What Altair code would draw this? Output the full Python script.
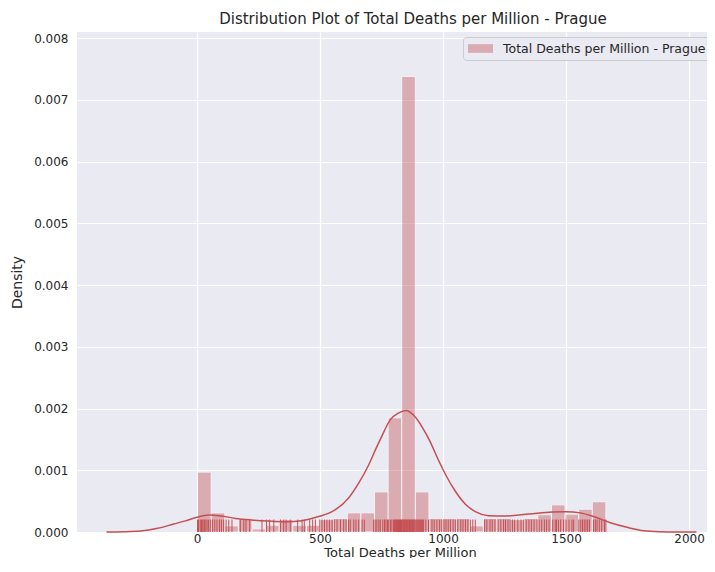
import altair as alt
import numpy as np
import pandas as pd

# ---------------- data ----------------
series_label = "Total Deaths per Million - Prague"

# individual observations (rug)
rug_values = [
    2, 6, 13, 18, 23, 28, 31, 36, 41, 47, 54, 63, 72, 81, 91, 99, 108, 118, 129, 142,
    176, 190, 199, 214, 264, 282, 295, 312, 339, 352, 362, 379, 409, 427, 436, 458,
    470, 481, 499, 508, 518, 528, 538, 549, 558, 569, 583, 596, 606, 616, 623, 637,
    646, 657, 671, 680, 718, 724, 731, 739, 745, 755, 762, 768, 774, 779, 786, 792,
    799, 803, 807, 811, 815, 819, 823, 827, 831, 834, 837, 840, 843, 846, 849, 852,
    855, 858, 861, 864, 867, 870, 873, 876, 879, 882, 885, 889, 893, 897, 901, 905,
    909, 913, 917, 921, 930, 941, 955, 964, 975, 986, 995, 1004, 1012, 1021, 1030,
    1041, 1050, 1060, 1072, 1081, 1091, 1101, 1111, 1121, 1131, 1169, 1178, 1191,
    1200, 1211, 1224, 1235, 1246, 1254, 1264, 1273, 1282, 1291, 1304, 1317, 1328,
    1338, 1349, 1359, 1370, 1382, 1391, 1401, 1412, 1421, 1431, 1446, 1456, 1461,
    1469, 1478, 1490, 1500, 1512, 1524, 1531, 1552, 1560, 1567, 1574, 1581, 1588,
    1595, 1612, 1619, 1626, 1635, 1645, 1656, 1662,
]

# histogram densities (30 equal bins between min and max of the data)
hist_density = [
    0.00097, 0.00031, 0.00010, 0.00020, 0.00005, 0.00011, 0.00020, 0.00011, 0.00011, 0.00020,
    0.00022, 0.00031, 0.00031, 0.00065, 0.00185, 0.00738, 0.00065, 0.00022, 0.00022, 0.00022,
    0.00010, 0.00022, 0.00022, 0.00020, 0.00022, 0.00028, 0.00044, 0.00029, 0.00037, 0.00049,
]

# KDE curve
kde_x = [-368, -300, -230, -160, -95, -47, 0, 50, 90, 156, 222, 291, 359, 427, 494, 549,
         616, 657, 698, 725, 745, 786, 820, 850, 881, 915, 948, 975, 1009, 1050, 1091,
         1131, 1185, 1253, 1348, 1443, 1500, 1558, 1612, 1680, 1748, 1816, 1883, 1950, 2030]
kde_y = [0, 0.000004, 0.000016, 0.00006, 0.00013, 0.00018, 0.00024, 0.000275, 0.000265,
         0.00022, 0.000195, 0.000178, 0.000168, 0.000184, 0.00025, 0.00033, 0.00055, 0.00079,
         0.00109, 0.00133, 0.00150, 0.00182, 0.00193, 0.00197, 0.00189, 0.00170, 0.00146,
         0.00122, 0.00094, 0.00066, 0.00045, 0.00033, 0.000265, 0.00026, 0.00029, 0.000325,
         0.00033, 0.00031, 0.00025, 0.00015, 0.000076, 0.00002, 0.000005, 0.000001, 0]

x_ticks = [0, 500, 1000, 1500, 2000]
y_ticks = [0.000, 0.001, 0.002, 0.003, 0.004, 0.005, 0.006, 0.007, 0.008]

# ---------------- tables ----------------
edges = np.linspace(min(rug_values), max(rug_values), len(hist_density) + 1)
hist_df = pd.DataFrame({
    "left": edges[:-1], "right": edges[1:], "density": hist_density,
    "zero": 0.0, "series": series_label,
})
kde_df = pd.DataFrame({"x": kde_x, "y": kde_y})
rug_df = pd.DataFrame({"value": rug_values})

# ---------------- style ----------------
FONT = "DejaVu Sans"
TEXT = "#262626"
RED = "#C44E52"
W, H = 630, 500

x_scale = alt.Scale(domain=[-488, 2073], nice=False, zero=False)
y_scale = alt.Scale(domain=[0, 0.0081], nice=False, zero=False)

x_axis = alt.Axis(values=x_ticks, format="d", title="Total Deaths per Million",
                  labelPadding=1, titleX=323, titleY=24, titleBaseline="alphabetic",
                  titleAlign="center", titleFontSize=13)
y_axis = alt.Axis(values=y_ticks, format=".3f", title="Density",
                  labelPadding=9, titlePadding=9)

legend = alt.Legend(
    title=None, orient="none", legendX=386, legendY=5, padding=5,
    fillColor="#EAEAF2", strokeColor="#CCCCCC", cornerRadius=3,
    symbolType="M-2,-0.7H2V0.7H-2Z", symbolSize=156, symbolOpacity=0.4,
    symbolStrokeWidth=0, symbolOffset=6,
    labelFont=FONT, labelFontSize=12.5, labelColor=TEXT,
    labelOffset=16, labelLimit=0,
)

hist = alt.Chart(hist_df).mark_rect(opacity=0.4, stroke="white", strokeWidth=1).encode(
    x=alt.X("left:Q", scale=x_scale, axis=x_axis),
    x2="right:Q",
    y=alt.Y("density:Q", scale=y_scale, axis=y_axis),
    y2="zero:Q",
    color=alt.Color("series:N", scale=alt.Scale(range=[RED]), legend=legend),
)

kde = alt.Chart(kde_df).mark_line(color=RED, strokeWidth=1.5, interpolate="monotone").encode(
    x=alt.X("x:Q", scale=x_scale),
    y=alt.Y("y:Q", scale=y_scale),
)

rug = alt.Chart(rug_df).mark_rule(color=RED, strokeWidth=1).encode(
    x=alt.X("value:Q", scale=x_scale),
    y=alt.value(H - 12.5),
    y2=alt.value(H),
)

chart = alt.layer(hist, kde, rug).properties(
    width=W, height=H,
    title=alt.Title("Distribution Plot of Total Deaths per Million - Prague",
                    font=FONT, fontSize=15, fontWeight="normal", color=TEXT,
                    anchor="middle", dx=21, offset=5),
    autosize=alt.AutoSizeParams(type="none"),
    padding={"left": 69, "top": 24, "right": 0, "bottom": 26},
).configure_view(
    fill="#EAEAF2", stroke=None,
).configure_axis(
    grid=True, gridColor="white", gridWidth=1.2, domain=False, ticks=False,
    labelFont=FONT, labelFontSize=12, labelColor=TEXT,
    titleFont=FONT, titleFontSize=14, titleColor=TEXT, titleFontWeight="normal",
)

chart.save("out.html", embed_options={"renderer": "svg", "actions": False})
